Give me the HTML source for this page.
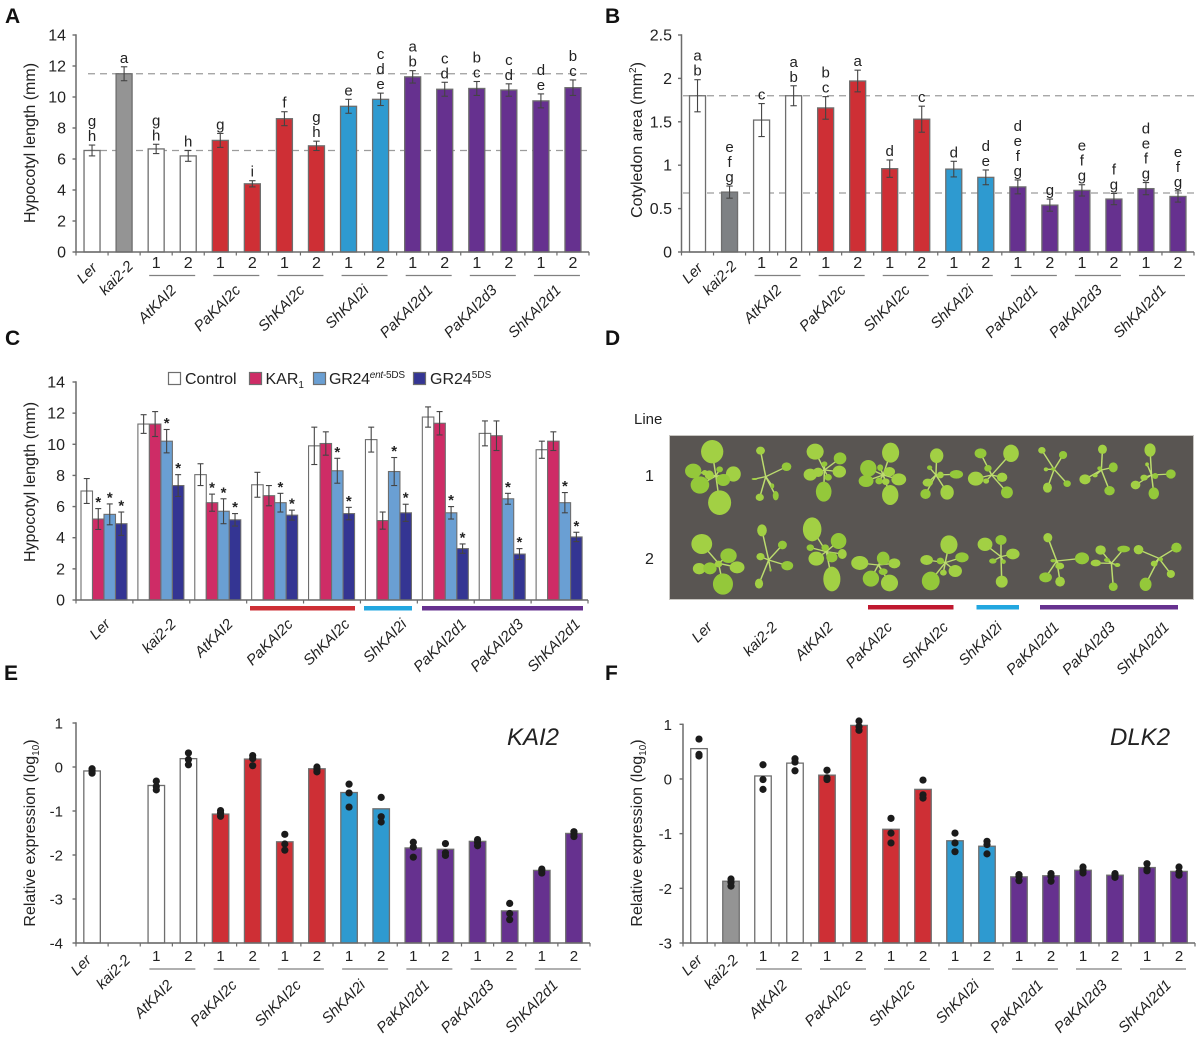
<!DOCTYPE html>
<html lang="en">
<head>
<meta charset="utf-8">
<title>KAI2 hypocotyl, cotyledon and expression panels</title>
<style>
html,body{margin:0;padding:0;background:#fff;}
svg{display:block;filter:blur(0.35px);}
text{font-family:"Liberation Sans",sans-serif;fill:#222;}
.pl{font-size:21px;font-weight:bold;fill:#111;}
.yt{font-size:16px;text-anchor:middle;}
.lg{font-size:16px;}
.dlab{font-size:15px;font-style:italic;text-anchor:end;}
</style>
</head>
<body>
<svg id="fig" xmlns="http://www.w3.org/2000/svg" width="1200" height="1061" viewBox="0 0 1200 1061">
  <rect x="0" y="0" width="1200" height="1061" fill="#fff"/>

  <text class="pl" x="5" y="23">A</text>
  <text class="pl" x="605" y="23">B</text>
  <text class="pl" x="5" y="345">C</text>
  <text class="pl" x="605" y="345">D</text>
  <text class="pl" x="4" y="680">E</text>
  <text class="pl" x="605" y="680">F</text>

  <g id="panel-a">
    <text class="yt" transform="translate(35,143) rotate(-90)">Hypocotyl length (mm)</text>
  </g>
  <g id="panel-b">
    <text class="yt" transform="translate(642,140) rotate(-90)">Cotyledon area (mm<tspan font-size="10" dy="-6">2</tspan><tspan dy="6">)</tspan></text>
  </g>
  <g id="panel-c">
    <text class="yt" transform="translate(35,482) rotate(-90)">Hypocotyl length (mm)</text>
    <g>
      <rect x="168.5" y="372.5" width="12" height="12" fill="#fff" stroke="#6e6e6e" stroke-width="1.2"/>
      <text class="lg" x="185" y="384">Control</text>
      <rect x="249.5" y="372.5" width="12" height="12" fill="#ce2c66" stroke="#6e6e6e" stroke-width="1.2"/>
      <text class="lg" x="265.5" y="384">KAR<tspan font-size="10" dy="4">1</tspan></text>
      <rect x="313.5" y="372.5" width="12" height="12" fill="#6a9fd3" stroke="#6e6e6e" stroke-width="1.2"/>
      <text class="lg" x="329" y="384" textLength="76" lengthAdjust="spacing">GR24<tspan font-size="10" dy="-6" font-style="italic">ent</tspan><tspan font-size="10">-5DS</tspan></text>
      <rect x="413.5" y="372.5" width="12" height="12" fill="#343593" stroke="#6e6e6e" stroke-width="1.2"/>
      <text class="lg" x="430" y="384">GR24<tspan font-size="10" dy="-6">5DS</tspan></text>
    </g>
    <rect x="250" y="606" width="105" height="4.5" fill="#ce2f35"/>
    <rect x="364" y="606" width="48" height="4.5" fill="#22a7e0"/>
    <rect x="422" y="606" width="161" height="4.5" fill="#66318f"/>
  </g>

  <g id="panel-d">
    <text x="634" y="424" font-size="15">Line</text>
    <text x="645" y="481" font-size="16">1</text>
    <text x="645" y="564" font-size="16">2</text>
    <rect x="669.5" y="435.5" width="524" height="164" fill="#595552" stroke="#c8c6c2" stroke-width="1"/>
    <g id="plants" transform="translate(620,400) scale(0.3717,0.3333)" style="filter:blur(0.4px)"></g>
    <rect x="868" y="605" width="85.5" height="4.5" fill="#c0182f"/>
    <rect x="976.5" y="605" width="42.5" height="4.5" fill="#22a7e0"/>
    <rect x="1040" y="605" width="138" height="4.5" fill="#66318f"/>
    <text class="dlab" transform="translate(713,628) rotate(-45)">Ler</text>
    <text class="dlab" transform="translate(778,628) rotate(-45)">kai2-2</text>
    <text class="dlab" transform="translate(834,628) rotate(-45)">AtKAI2</text>
    <text class="dlab" transform="translate(893,628) rotate(-45)">PaKAI2c</text>
    <text class="dlab" transform="translate(949,628) rotate(-45)">ShKAI2c</text>
    <text class="dlab" transform="translate(1003,628) rotate(-45)">ShKAI2i</text>
    <text class="dlab" transform="translate(1060,628) rotate(-45)">PaKAI2d1</text>
    <text class="dlab" transform="translate(1116,628) rotate(-45)">PaKAI2d3</text>
    <text class="dlab" transform="translate(1170,628) rotate(-45)">ShKAI2d1</text>
  </g>

  <g id="panel-e">
    <text class="yt" transform="translate(35,833) rotate(-90)">Relative expression (log<tspan font-size="10" dy="4">10</tspan><tspan dy="-4">)</tspan></text>
    <text x="507" y="745" font-size="24" font-style="italic">KAI2</text>
  </g>
  <g id="panel-f">
    <text class="yt" transform="translate(642,833) rotate(-90)">Relative expression (log<tspan font-size="10" dy="4">10</tspan><tspan dy="-4">)</tspan></text>
    <text x="1110" y="745" font-size="24" font-style="italic">DLK2</text>
  </g>
</svg>

<script>
// ---------- shared categories ----------
const genotypes = ['Ler','kai2-2','AtKAI2','PaKAI2c','ShKAI2c','ShKAI2i','PaKAI2d1','PaKAI2d3','ShKAI2d1'];
const slotNames = ['Ler','kai2-2','AtKAI2-1','AtKAI2-2','PaKAI2c-1','PaKAI2c-2','ShKAI2c-1','ShKAI2c-2','ShKAI2i-1','ShKAI2i-2','PaKAI2d1-1','PaKAI2d1-2','PaKAI2d3-1','PaKAI2d3-2','ShKAI2d1-1','ShKAI2d1-2'];
const treatments = ['control','kar1','gr24-ent-5ds','gr24-5ds'];

// ---------- panel A ----------
const valuesA = [6.55,11.5,6.65,6.2,7.2,4.4,8.6,6.85,9.4,9.85,11.3,10.5,10.55,10.45,9.75,10.6];
const errorsA = [0.35,0.45,0.3,0.35,0.45,0.2,0.45,0.3,0.45,0.4,0.4,0.45,0.45,0.4,0.45,0.5];
const lettersA = ['g h','a','g h','h','g','i','f','g h','e','c d e','a b','c d','b c','c d','d e','b c'];
const refsA = [11.5,6.55];
const ticksA = [0,2,4,6,8,10,12,14];

// ---------- panel B ----------
const valuesB = [1.8,0.69,1.52,1.8,1.66,1.97,0.96,1.53,0.955,0.86,0.75,0.54,0.71,0.61,0.73,0.64];
const errorsB = [0.185,0.07,0.19,0.115,0.13,0.125,0.1,0.15,0.09,0.085,0.08,0.07,0.065,0.065,0.07,0.065];
const lettersB = ['a b','e f g','c','a b','b c','a','d','c','d','d e','d e f g','g','e f g','f g','d e f g','e f g'];
const refsB = [1.8,0.68];
const ticksB = [0,0.5,1,1.5,2,2.5];

// ---------- panel C (one row per treatment, one column per genotype) ----------
const controlC = [7.0,11.3,8.05,7.4,9.9,10.3,11.75,10.7,9.65];
const controlErrC = [0.8,0.6,0.7,0.8,1.2,0.8,0.65,0.8,0.55];
const karC = [5.2,11.3,6.25,6.7,10.05,5.1,11.35,10.55,10.2];
const karErrC = [0.67,0.8,0.55,0.65,0.75,0.55,0.75,0.95,0.6];
const entC = [5.5,10.2,5.7,6.25,8.3,8.25,5.6,6.5,6.25];
const entErrC = [0.67,0.75,0.8,0.6,0.8,0.9,0.4,0.35,0.65];
const gr5dsC = [4.9,7.35,5.15,5.45,5.55,5.6,3.3,2.95,4.05];
const gr5dsErrC = [0.75,0.7,0.4,0.32,0.4,0.55,0.3,0.35,0.3];
const starsKarC = [1,0,1,0,0,0,0,0,0];
const starsEntC = [1,1,1,1,1,1,1,1,1];
const starsGrC = [1,1,1,1,1,1,1,1,1];
const ticksC = [0,2,4,6,8,10,12,14];

// ---------- panel E ----------
const valuesE = [-0.09,null,-0.42,0.19,-1.07,0.18,-1.7,-0.04,-0.58,-0.95,-1.84,-1.87,-1.69,-3.27,-2.35,-1.51];
const dotsE = [[-0.04,-0.08,-0.14],[],[-0.32,-0.44,-0.52],[0.32,0.17,0.05],[-0.99,-1.05,-1.12],[0.26,0.19,0.03],[-1.53,-1.75,-1.89],[0,-0.05,-0.11],[-0.39,-0.59,-0.91],[-0.69,-1.13,-1.25],[-1.71,-1.82,-2.05],[-1.74,-1.95,-2.01],[-1.65,-1.72,-1.79],[-3.1,-3.33,-3.47],[-2.32,-2.35,-2.41],[-1.47,-1.52,-1.58]];
const ticksE = [-4,-3,-2,-1,0,1];

// ---------- panel F ----------
const valuesF = [0.555,-1.87,0.055,0.29,0.07,0.98,-0.92,-0.19,-1.13,-1.23,-1.79,-1.77,-1.67,-1.76,-1.62,-1.69];
const dotsF = [[0.73,0.45,0.42],[-1.83,-1.89,-1.96],[0.26,-0.01,-0.19],[0.37,0.31,0.15],[0.16,0.02,-0.01],[1.06,0.96,0.89],[-0.72,-0.99,-1.17],[-0.02,-0.29,-0.35],[-0.99,-1.17,-1.33],[-1.14,-1.2,-1.37],[-1.75,-1.78,-1.86],[-1.73,-1.78,-1.87],[-1.61,-1.67,-1.72],[-1.73,-1.76,-1.8],[-1.55,-1.65,-1.68],[-1.61,-1.7,-1.76]];
const ticksF = [-3,-2,-1,0,1];

// ---------- drawing helpers ----------
const NS = 'http://www.w3.org/2000/svg';
const WHITE='#fff', RED='#ce2f35', BLUE='#2e9ad0', PURPLE='#66318f';
const AXIS='#6c6c6c', EDGE='#6e6e6e', ERR='#444';
function slotColor(i, gray){
  if(i===1) return gray;
  if(i<=3) return WHITE;
  if(i<=7) return RED;
  if(i<=9) return BLUE;
  return PURPLE;
}
function el(parent, tag, attrs, text){
  const n = document.createElementNS(NS, tag);
  for(const k in attrs) n.setAttribute(k, attrs[k]);
  if(text!==undefined) n.textContent = text;
  parent.appendChild(n);
  return n;
}
function linear(d0,d1,r0,r1){ return v => r0 + (v-d0)*(r1-r0)/(d1-d0); }

function drawAxes(g, o){
  const y = o.y;
  o.ticks.forEach(t=>{
    const m = el(g,'line',{x1:o.x0-3.5,x2:o.x0,y1:y(t),y2:y(t),stroke:AXIS,'stroke-width':1.4});
    
    
    const l = el(g,'text',{x:o.labelX,y:y(t)+5.5,'text-anchor':'end','font-size':o.tickSize},String(t));
    
    
  });
  const ya = el(g,'line',{x1:o.x0,x2:o.x0,y1:y(o.max)-0.7,y2:o.yBot+0.7,stroke:AXIS,'stroke-width':1.5});
  
  
  const xa = el(g,'line',{x1:o.x0,x2:o.x1,y1:o.yBot,y2:o.yBot,stroke:AXIS,'stroke-width':1.6});
  
  
  for(let i=0;i<=o.nTicks;i++){
    const x = o.x0 + i*(o.x1-o.x0)/o.nTicks;
    const t = el(g,'line',{x1:x,x2:x,y1:o.yBot,y2:o.yBot+3.5,stroke:AXIS,'stroke-width':1.2});
    
    
  }
}

function drawRefs(g, refs, o, startX){
  refs.forEach(v=>{
    const r = el(g,'line',{x1:startX,x2:o.x1,y1:o.y(v),y2:o.y(v),stroke:'#9c9c9c','stroke-width':1.3,'stroke-dasharray':'7 5'});
    
    
  });
}

function drawSlotLabels(g, o){
  const slot = (o.x1-o.x0)/16;
  const cx = i => o.x0 + (i+0.5)*slot;
  const ler = el(g,'text',{'text-anchor':'end','font-size':o.catSize,'font-style':'italic',transform:`translate(${cx(0)+o.lerDx},${o.lerY}) rotate(-45)`},genotypes[0]);
  
  
  const kai = el(g,'text',{'text-anchor':'end','font-size':o.catSize,'font-style':'italic',transform:`translate(${cx(1)+o.kaiDx},${o.kaiY}) rotate(-45)`},genotypes[1]);
  
  
  for(let k=2;k<genotypes.length;k++){
    const a = 2+(k-2)*2, b = a+1, mid = (cx(a)+cx(b))/2;
    const n1 = el(g,'text',{x:cx(a),y:o.numY,'text-anchor':'middle','font-size':o.tickSize},'1');
    
    
    const n2 = el(g,'text',{x:cx(b),y:o.numY,'text-anchor':'middle','font-size':o.tickSize},'2');
    
    
    const u = el(g,'line',{x1:mid-23,x2:mid+23,y1:o.ruleY,y2:o.ruleY,stroke:'#808080','stroke-width':1.2});
    
    
    const t = el(g,'text',{'text-anchor':'end','font-size':o.catSize,'font-style':'italic',transform:`translate(${mid+o.groupDx},${o.groupY}) rotate(-45)`},genotypes[k]);
    
    
  }
}

function drawSlotBars(g, vals, o, gray){
  const slot = (o.x1-o.x0)/16;
  vals.forEach((v,i)=>{
    if(v===null) return;
    const cx = o.x0 + (i+0.5)*slot;
    const r = el(g,'rect',{x:cx-o.barW/2,y:o.y(v),width:o.barW,height:o.yBot-o.y(v),fill:slotColor(i,gray),stroke:EDGE,'stroke-width':1.3});
    
    
  });
}

function drawErr(g, cx, v, e, y, cap){
  const s = el(g,'line',{x1:cx,x2:cx,y1:y(v+e),y2:y(v-e),stroke:ERR,'stroke-width':1.1});
  
  
  const c1 = el(g,'line',{x1:cx-cap,x2:cx+cap,y1:y(v+e),y2:y(v+e),stroke:ERR,'stroke-width':1.1});
  
  
  const c2 = el(g,'line',{x1:cx-cap,x2:cx+cap,y1:y(v-e),y2:y(v-e),stroke:ERR,'stroke-width':1.1});
  
  
}

function drawErrLetters(g, vals, errs, letters, o){
  const slot = (o.x1-o.x0)/16;
  vals.forEach((v,i)=>{
    const cx = o.x0 + (i+0.5)*slot;
    drawErr(g,cx,v,errs[i],o.y,3.2);
    const top = o.y(v+errs[i]);
    const parts = letters[i].split(' ');
    parts.forEach((ch,j)=>{
      const up = parts.length-1-j;
      const t = el(g,'text',{x:cx,y:top-4-up*15,'text-anchor':'middle','font-size':15},ch);
      
      
    });
  });
}

function drawDots(g, sets, o){
  const slot = (o.x1-o.x0)/16;
  sets.forEach((pts,i)=>{
    const cx = o.x0 + (i+0.5)*slot;
    pts.forEach(p=>{
      const d = el(g,'circle',{cx:cx,cy:o.y(p),r:3.6,fill:'#1b1b1b'});
      
      
    });
  });
}

// ---------- panel A ----------
(function(){
  const g = document.getElementById('panel-a');
  const o = {x0:76,x1:589,yBot:252,max:14,ticks:ticksA,labelX:66,tickSize:16,nTicks:16,barW:16,
    y:linear(0,14,252,35),catSize:15,numY:268,ruleY:275.5,lerDx:6,lerY:269,kaiDx:10,kaiY:267,groupDx:5,groupY:291};
  drawRefs(g,refsA,o,88);
  drawSlotBars(g,valuesA,o,'#949494');
  drawAxes(g,o);
  drawErrLetters(g,valuesA,errorsA,lettersA,o);
  drawSlotLabels(g,o);
})();

// ---------- panel B ----------
(function(){
  const g = document.getElementById('panel-b');
  const o = {x0:681.5,x1:1194,yBot:252,max:2.5,ticks:ticksB,labelX:672,tickSize:16,nTicks:16,barW:16,
    y:linear(0,2.5,252,35),catSize:15,numY:268,ruleY:275.5,lerDx:6,lerY:269,kaiDx:8,kaiY:267,groupDx:5,groupY:291};
  drawRefs(g,refsB,o,683);
  drawSlotBars(g,valuesB,o,'#7e8184');
  drawAxes(g,o);
  drawErrLetters(g,valuesB,errorsB,lettersB,o);
  drawSlotLabels(g,o);
})();

// ---------- panel C ----------
(function(){
  const g = document.getElementById('panel-c');
  const x0=76,x1=588,yBot=600,W=(x1-x0)/9,bw=11.5;
  const y = linear(0,14,600,382);
  const o = {x0,x1,yBot,max:14,ticks:ticksC,labelX:65,tickSize:16,nTicks:9,y};
  const series = [controlC,karC,entC,gr5dsC];
  const errs = [controlErrC,karErrC,entErrC,gr5dsErrC];
  const fills = ['#fff','#ce2c66','#6a9fd3','#343593'];
  const stars = [null,starsKarC,starsEntC,starsGrC];
  series.forEach((arr,s)=>{
    arr.forEach((v,k)=>{
      const left = x0 + k*W + 5 + s*bw;
      const r = el(g,'rect',{x:left,y:y(v),width:bw,height:yBot-y(v),fill:fills[s],stroke:EDGE,'stroke-width':1.1});
      
      
    });
  });
  drawAxes(g,o);
  series.forEach((arr,s)=>{
    arr.forEach((v,k)=>{
      const cx = x0 + k*W + 5 + (s+0.5)*bw;
      drawErr(g,cx,v,errs[s][k],y,3);
      if(stars[s] && stars[s][k]){
        const t = el(g,'text',{x:cx,y:y(v+errs[s][k])-1.5,'text-anchor':'middle','font-size':15,'font-weight':'bold'},'*');
        
        
      }
    });
  });
  genotypes.forEach((name,k)=>{
    const cx = x0 + k*W + 5 + 2*bw;
    const t = el(g,'text',{'text-anchor':'end','font-size':15,'font-style':'italic',transform:`translate(${cx+name.length*3-2},625) rotate(-45)`},name);
    
    
  });
})();

// ---------- panel E ----------
(function(){
  const g = document.getElementById('panel-e');
  const o = {x0:76,x1:590,yBot:943,max:1,ticks:ticksE,labelX:63,tickSize:15,nTicks:16,barW:16.5,
    y:linear(-4,1,943,723),catSize:15,numY:961,ruleY:969,lerDx:0,lerY:961,kaiDx:7,kaiY:961,groupDx:1,groupY:986};
  drawSlotBars(g,valuesE,o,'#949494');
  drawAxes(g,o);
  drawDots(g,dotsE,o);
  drawSlotLabels(g,o);
})();

// ---------- panel F ----------
(function(){
  const g = document.getElementById('panel-f');
  const o = {x0:683,x1:1195,yBot:943,max:1,ticks:ticksF,labelX:672,tickSize:15,nTicks:16,barW:16.5,
    y:linear(-3,1,943,724.3),catSize:15,numY:961,ruleY:969,lerDx:4,lerY:961,kaiDx:8,kaiY:961,groupDx:9,groupY:986};
  drawSlotBars(g,valuesF,o,'#949494');
  drawAxes(g,o);
  drawDots(g,dotsF,o);
  drawSlotLabels(g,o);
})();

// ---------- panel D seedlings (illustrative drawing of the photograph) ----------
const seedlings = [
 {c:[258,228],l:[[248,155,30,35],[197,213,22,22],[305,222,20,23],[215,255,25,26],[268,308,31,37],[278,240,18,18],[240,225,12,14],[268,208,9,9],[228,218,8,8]]},
 {c:[392,230],l:[[378,152,12,12],[448,200,13,13],[376,292,11,11],[419,287,8,14],[362,237,8,3],[410,258,5,8]]},
 {c:[550,210],l:[[525,155,23,24],[592,175,17,18],[512,224,18,18],[548,275,21,30],[590,215,18,18],[560,232,10,10],[533,217,14,14],[550,192,8,8]]},
 {c:[708,225],l:[[728,158,23,30],[668,205,22,25],[750,238,20,18],[662,243,20,18],[727,285,22,30],[700,203,8,10],[725,215,15,14],[697,243,10,10],[715,245,10,10]]},
 {c:[850,225],l:[[852,167,18,22],[905,223,18,13],[828,248,14,12],[822,282,14,15],[880,277,18,22],[833,203,7,7],[862,225,9,10]]},
 {c:[1000,225],l:[[1052,160,21,26],[970,160,16,15],[957,236,21,21],[1041,277,16,18],[1028,232,14,14],[990,205,10,10],[985,243,8,8]]},
 {c:[1168,208],l:[[1135,151,10,10],[1192,165,11,12],[1150,263,12,15],[1203,251,10,10],[1146,208,6,6],[1165,207,6,5]]},
 {c:[1295,210],l:[[1298,148,12,14],[1327,202,12,15],[1251,238,15,15],[1317,272,14,14],[1278,227,7,5],[1290,205,6,6]]},
 {c:[1430,225],l:[[1426,150,15,20],[1482,222,13,14],[1387,255,13,13],[1436,280,14,18],[1410,233,10,9],[1440,228,8,9],[1418,193,5,6]]},
 {c:[265,490],l:[[220,432,28,30],[292,467,22,22],[213,506,17,17],[242,505,18,18],[315,502,20,18],[277,552,27,32],[265,492,10,10]]},
 {c:[400,480],l:[[382,391,13,18],[437,435,12,13],[378,470,11,11],[450,497,16,14],[374,551,11,15],[405,510,3,5]]},
 {c:[555,455],l:[[517,388,25,36],[588,423,21,24],[598,462,12,15],[512,443,10,10],[528,476,21,21],[570,472,15,15],[570,537,23,37],[552,443,10,10]]},
 {c:[695,495],l:[[645,489,23,21],[708,475,17,20],[738,490,16,15],[675,536,22,24],[725,549,23,25],[708,515,12,10]]},
 {c:[875,488],l:[[885,434,23,28],[920,472,18,15],[825,480,17,15],[862,483,10,10],[902,513,18,18],[836,543,24,28],[870,518,9,9]]},
 {c:[1025,470],l:[[982,433,20,20],[1025,420,15,15],[1057,462,18,16],[1003,483,10,8],[1027,545,16,18],[1032,485,6,7]]},
 {c:[1175,483],l:[[1151,413,12,14],[1243,475,19,18],[1183,498,12,10],[1145,532,17,15],[1184,545,13,15],[1165,482,7,5]]},
 {c:[1322,490],l:[[1293,450,14,14],[1355,447,17,10],[1280,489,14,10],[1327,560,12,13],[1338,495,8,6],[1310,480,8,6]]},
 {c:[1450,475],l:[[1395,449,13,14],[1497,443,14,15],[1482,522,11,12],[1414,553,16,20],[1437,491,9,9],[1455,478,6,6]]}
];
(function(){
  const g = document.getElementById('plants');
  seedlings.forEach((p,n)=>{
    const pg = el(g,'g',{});
    
    
    p.l.forEach(q=>{
      const s = el(pg,'line',{x1:p.c[0],y1:p.c[1],x2:q[0],y2:q[1],stroke:'#bcdc6e','stroke-width':4});
      
      
    });
    p.l.forEach((q,j)=>{
      const e = el(pg,'ellipse',{cx:q[0],cy:q[1],rx:q[2],ry:q[3],fill:j%2?'#94c83a':'#a2d044'});
      
      
    });
  });
})();
</script>
</body>
</html>
